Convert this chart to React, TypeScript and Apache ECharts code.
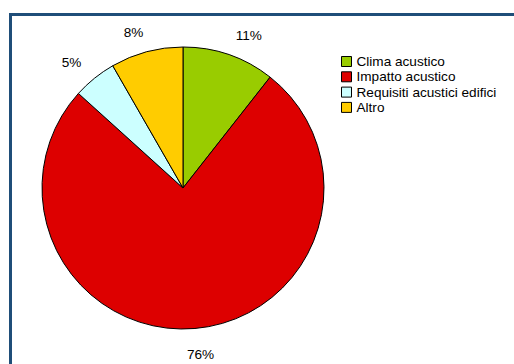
import React, { useEffect, useRef } from "react";
import * as echarts from "echarts";

const categories = ["Clima acustico", "Impatto acustico", "Requisiti acustici edifici", "Altro"];
const values = [10.6, 76.1, 5.0, 8.3];
const colors = ["#99CC00", "#DD0000", "#CCFFFF", "#FFCC00"];

const CX = 183;
const CY = 188;
const R = 141;

export default function App() {
  const ref = useRef<HTMLDivElement>(null);
  useEffect(() => {
    if (!ref.current) return;
    const chart = echarts.init(ref.current, null, { renderer: "svg" });
    const total = values.reduce((a, b) => a + b, 0);
    const mids: number[] = [];
    let acc = 0;
    values.forEach((v) => {
      mids.push(((acc + v / 2) / total) * Math.PI * 2);
      acc += v;
    });
    const font = 'Arial, "Liberation Sans", sans-serif';
    chart.setOption({
      animation: false,
      backgroundColor: "#ffffff",
      graphic: [
        {
          type: "polyline",
          shape: { points: [[10.5, 370], [10.5, 14.5], [514, 14.5]] },
          style: { fill: "none", stroke: "#1f4e79", lineWidth: 3 },
          silent: true,
        },
      ],
      legend: {
        orient: "vertical",
        left: 341,
        top: 54.5,
        padding: 0,
        itemWidth: 10,
        itemHeight: 10,
        itemGap: 1.3,
        icon: "rect",
        data: categories,
        textStyle: { fontFamily: font, fontSize: 13.6, color: "#000" },
        itemStyle: { borderColor: "#000", borderWidth: 1 },
      },
      series: [
        {
          type: "pie",
          center: [CX, CY],
          radius: R,
          startAngle: 90,
          clockwise: true,
          avoidLabelOverlap: false,
          percentPrecision: 0,
          itemStyle: { borderColor: "#000", borderWidth: 1 },
          emphasis: { disabled: true },
          label: {
            show: true,
            position: "outside",
            formatter: "{d}%",
            fontFamily: font,
            fontSize: 13.6,
            color: "#000",
          },
          labelLine: { show: false },
          labelLayout: (p: any) => {
            const mid = mids[p.dataIndex];
            const dx = Math.sin(mid);
            const dy = -Math.cos(mid);
            const rr = R + 21 + 4 * Math.max(0, dy);
            const px = CX + dx * rr;
            const py = CY + dy * rr;
            const w = p.labelRect.width;
            const fx = 0.5 - 0.5 * Math.max(-1, Math.min(1, dx * 3));
            return { x: px - fx * w, y: py + 1, align: "left", verticalAlign: "middle" };
          },
          data: categories.map((name, i) => ({
            name,
            value: values[i],
            itemStyle: { color: colors[i] },
          })),
        },
      ],
    });
    return () => chart.dispose();
  }, []);
  return (
    <div
      ref={ref}
      style={{ position: "absolute", left: 0, top: 0, width: 514, height: 364 }}
    />
  );
}
